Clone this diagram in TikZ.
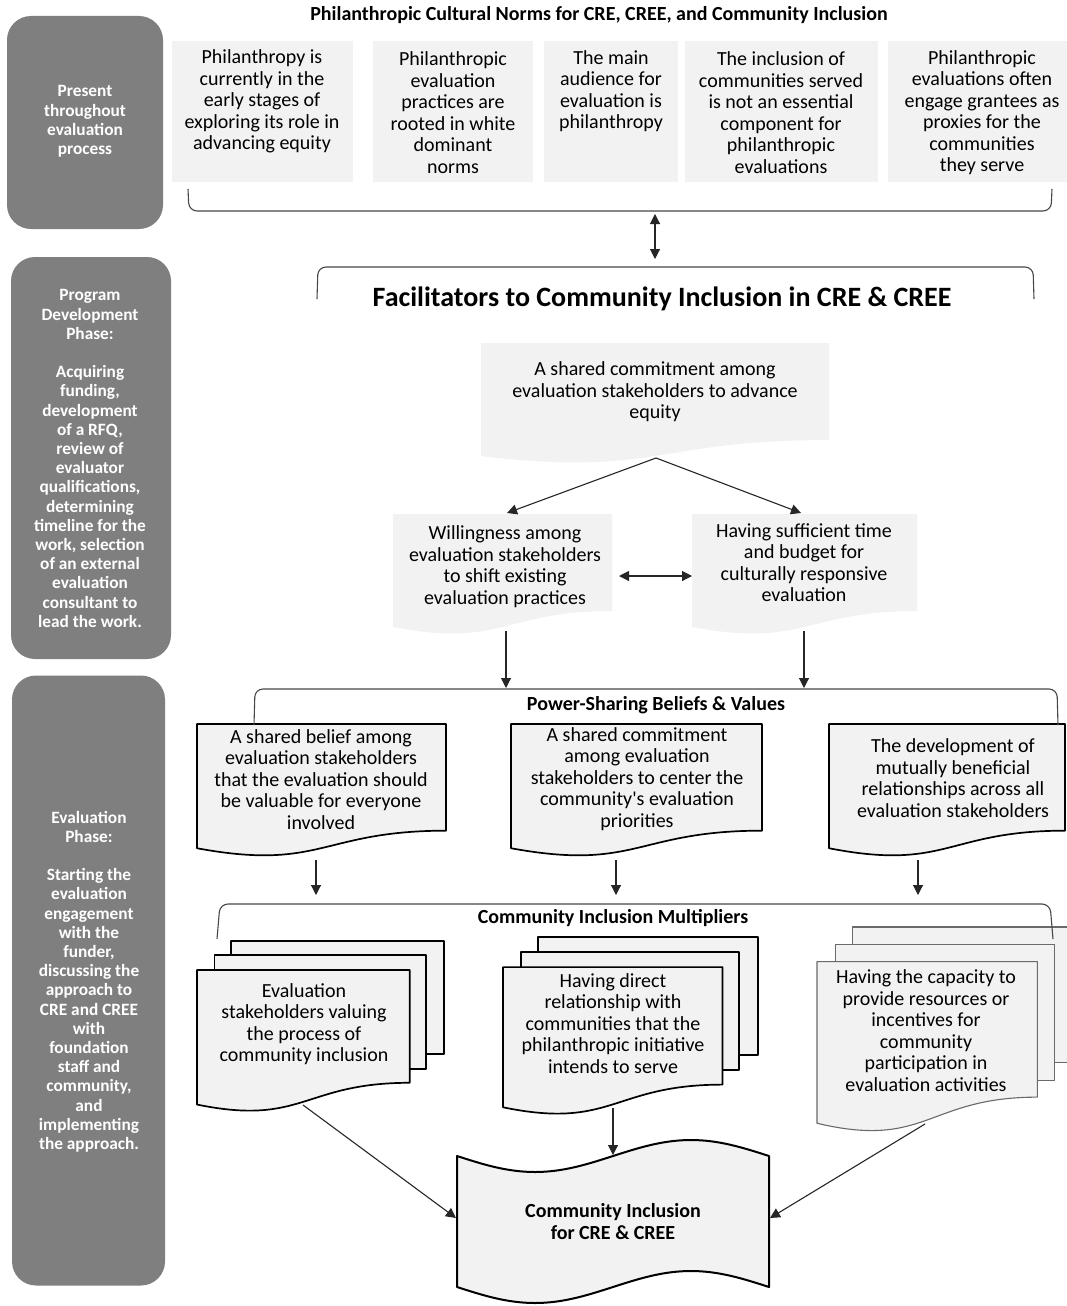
\documentclass[tikz,border=0pt]{standalone}
\usepackage{fontspec}
\setmainfont{Carlito}
\usetikzlibrary{arrows.meta}

\definecolor{phasegray}{HTML}{7F7F7F}
\definecolor{paper}{HTML}{F2F2F2}
\definecolor{softline}{HTML}{6A6A6A}

% flowchart "document": flat top, wavy bottom (low on the left)
\newcommand{\docshape}[5]{% x, y, width, height, style
  \pgfmathsetmacro{\dsR}{#1+#3}%
  \pgfmathsetmacro{\dsM}{#1+0.5*#3}%
  \pgfmathsetmacro{\dsA}{#2+0.802*#4}%
  \pgfmathsetmacro{\dsB}{#2+1.1075*#4}%
  \pgfmathsetmacro{\dsC}{#2+0.934*#4}%
  \path[#5] (#1,#2) -- (\dsR,#2) -- (\dsR,\dsA) .. controls (\dsM,\dsA) and (\dsM,\dsB) .. (#1,\dsC) -- cycle;}

% flowchart "multidocument": three stacked pages, the front one with a wavy bottom
\newcommand{\stackshape}[5]{% x, y, width, height, style
  \pgfmathsetmacro{\ssBx}{#1+0.1376*#3}%
  \pgfmathsetmacro{\ssR}{#1+#3}%
  \pgfmathsetmacro{\ssBb}{#2+0.666*#4}%
  \pgfmathsetmacro{\ssMx}{#1+0.0709*#3}%
  \pgfmathsetmacro{\ssMr}{#1+0.926*#3}%
  \pgfmathsetmacro{\ssMt}{#2+0.084*#4}%
  \pgfmathsetmacro{\ssMb}{#2+0.752*#4}%
  \pgfmathsetmacro{\ssFr}{#1+0.861*#3}%
  \pgfmathsetmacro{\ssFt}{#2+0.170*#4}%
  \pgfmathsetmacro{\ssFb}{#2+0.834*#4}%
  \pgfmathsetmacro{\ssFc}{#1+0.43*#3}%
  \pgfmathsetmacro{\ssFd}{#2+1.09*#4}%
  \pgfmathsetmacro{\ssFl}{#2+0.962*#4}%
  \path[#5] (\ssBx,#2) rectangle (\ssR,\ssBb);
  \path[#5] (\ssMx,\ssMt) rectangle (\ssMr,\ssMb);
  \path[#5] (#1,\ssFt) -- (\ssFr,\ssFt) -- (\ssFr,\ssFb) .. controls (\ssFc,\ssFb) and (\ssFc,\ssFd) .. (#1,\ssFl) -- cycle;}

\begin{document}
\begin{tikzpicture}[x=1pt, y=-1pt, line join=round,
  phase/.style={rectangle, fill=phasegray, rounded corners=24pt, inner sep=0pt},
  phasetext/.style={text=white, font=\fontsize{17.3}{19.2}\selectfont\bfseries, align=center, inner sep=0pt},
  normbox/.style={rectangle, fill=paper, inner sep=0pt},
  bodytext/.style={font=\fontsize{20}{21.5}\selectfont, align=center, inner sep=0pt},
  headtext/.style={font=\fontsize{20}{21.5}\selectfont\bfseries, align=center, inner sep=0pt},
  bigtitle/.style={font=\fontsize{28}{30}\selectfont\bfseries, align=center, inner sep=0pt},
  brk/.style={draw=black!72, line width=1.1pt, rounded corners=8pt},
  con/.style={draw=black!85, line width=1.1pt, -{Triangle[length=10pt,width=10pt]}},
  dcon/.style={draw=black!85, line width=1.1pt, {Triangle[length=10pt,width=10pt]}-{Triangle[length=10pt,width=10pt]}},
  docplain/.style={fill=paper},
  docbold/.style={fill=paper, draw=black, line width=1.7pt},
  docsoft/.style={fill=paper, draw=softline, line width=1.1pt},
  tapestyle/.style={fill=paper, draw=black, line width=2pt}]

\path[use as bounding box, fill=white] (0,0) rectangle (1066,1306);

% ---- phase column ----
\node[phase, minimum width=156pt, minimum height=213pt] (phaseA) at (85,122.5) {};
\node[phasetext] (phaseAtext) at (85,121.5) {Present\\throughout\\evaluation\\process};
\node[phase, minimum width=160pt, minimum height=402pt] (phaseB) at (91,458) {};
\node[phasetext] (phaseBtext) at (90,458.5) {Program\\Development\\Phase:\\[19.2pt]Acquiring\\funding,\\development\\of a RFQ,\\review of\\evaluator\\qualifications,\\determining\\timeline for the\\work, selection\\of an external\\evaluation\\consultant to\\lead the work.};
\node[phase, minimum width=153pt, minimum height=610pt] (phaseC) at (88.5,980.5) {};
\node[phasetext] (phaseCtext) at (89,981.5) {Evaluation\\Phase:\\[19.2pt]Starting the\\evaluation\\engagement\\with the\\funder,\\discussing the\\approach to\\CRE and CREE\\with\\foundation\\staff and\\community,\\and\\implementing\\the approach.};

% ---- cultural norms ----
\node[headtext] (normsTitle) at (599,15) {Philanthropic Cultural Norms for CRE, CREE, and Community Inclusion};
\node[normbox, minimum width=181pt, minimum height=141pt] (normA) at (262.5,111.5) {};
\node[normbox, minimum width=160pt, minimum height=141pt] (normB) at (453,111.5) {};
\node[normbox, minimum width=134pt, minimum height=141pt] (normC) at (611,111.5) {};
\node[normbox, minimum width=193pt, minimum height=141pt] (normD) at (781.5,111.5) {};
\node[normbox, minimum width=190pt, minimum height=141pt] (normE) at (983,111.5) {};
\node[bodytext] (normAtext) at (262,101.5) {Philanthropy is\\currently in the\\early stages of\\exploring its role in\\advancing equity};
\node[bodytext] (normBtext) at (453,112.5) {Philanthropic\\evaluation\\practices are\\rooted in white\\dominant\\norms};
\node[bodytext] (normCtext) at (611,91) {The main\\audience for\\evaluation is\\philanthropy};
\node[bodytext] (normDtext) at (781,112.5) {The inclusion of\\communities served\\is not an essential\\component for\\philanthropic\\evaluations};
\node[bodytext] (normEtext) at (982,112.5) {Philanthropic\\evaluations often\\engage grantees as\\proxies for the\\communities\\they serve};
\draw[brk] (188,189) -- (189,211) -- (1051,211) -- (1052,189);

% ---- facilitators ----
\draw[brk] (317,299) -- (318,267) -- (1033,267) -- (1034,299);
\node[bigtitle] (facTitle) at (662,299) {Facilitators to Community Inclusion in CRE \& CREE};

\docshape{481}{343}{348}{121}{docplain}
\node[bodytext] (commitText) at (655,392) {A shared commitment among\\evaluation stakeholders to advance\\equity};
\docshape{393}{514}{219}{121}{docplain}
\node[bodytext] (willText) at (505,566.5) {Willingness among\\evaluation stakeholders\\to shift existing\\evaluation practices};
\docshape{692}{514}{225}{121}{docplain}
\node[bodytext] (timeText) at (804,562.5) {Having sufficient time\\and budget for\\culturally responsive\\evaluation};

% ---- power-sharing beliefs & values ----
\docshape{197}{724}{249}{133}{docbold}
\node[bodytext] (beliefText) at (321,779.5) {A shared belief among\\evaluation stakeholders\\that the evaluation should\\be valuable for everyone\\involved};
\docshape{511}{724}{251}{133}{docbold}
\node[bodytext] (centerText) at (637,779) {A shared commitment\\among evaluation\\stakeholders to center the\\community\textquotesingle s evaluation\\priorities};
\docshape{829}{724}{236}{133}{docbold}
\node[bodytext] (relateText) at (953,778) {The development of\\mutually beneficial\\relationships across all\\evaluation stakeholders};
\draw[brk] (254,725) -- (255,689) -- (1057,689) -- (1058,725);
\node[headtext] (psTitle) at (656,705) {Power-Sharing Beliefs \& Values};

% ---- community inclusion multipliers ----
\stackshape{197}{941}{247}{170}{docbold}
\node[bodytext] (valueText) at (304,1024) {Evaluation\\stakeholders valuing\\the process of\\community inclusion};
\stackshape{503}{937}{255}{177}{docbold}
\node[bodytext] (directText) at (613,1023.5) {Having direct\\relationship with\\communities that the\\philanthropic initiative\\intends to serve};
\stackshape{817}{927}{256}{204}{docsoft}
\node[bodytext] (resourceText) at (926,1030.5) {Having the capacity to\\provide resources or\\incentives for\\community\\participation in\\evaluation activities};
\draw[brk] (217,939) -- (220,904) -- (1050,904) -- (1053,939);
\node[headtext] (cimTitle) at (613,918) {Community Inclusion Multipliers};

% ---- outcome ----
\path[tapestyle] (457,1156) sin (535,1172) cos (613,1156) sin (691,1140) cos (769,1156)
  -- (769,1287) sin (691,1271) cos (613,1287) sin (535,1303) cos (457,1287) -- cycle;
\node[headtext] (goalText) at (613,1221.5) {Community Inclusion\\for CRE \& CREE};

% ---- connector end points ----
\coordinate (normsFoot) at (655,214);
\coordinate (facHead) at (655,259);
\coordinate (commitFoot) at (656,458);
\coordinate (willHead) at (507,513);
\coordinate (timeHead) at (801,513);
\coordinate (willSide) at (619,576);
\coordinate (timeSide) at (692,576);
\coordinate (willFoot) at (506,631);
\coordinate (timeFoot) at (804,631);
\coordinate (psWill) at (506,688);
\coordinate (psTime) at (804,688);
\coordinate (beliefFoot) at (316,860);
\coordinate (centerFoot) at (616,860);
\coordinate (relateFoot) at (918,860);
\coordinate (cimA) at (316,895);
\coordinate (cimB) at (616,895);
\coordinate (cimC) at (918,895);
\coordinate (valueFoot) at (303,1105);
\coordinate (directFoot) at (613,1108);
\coordinate (resourceFoot) at (925,1124);
\coordinate (goalWest) at (456,1218);
\coordinate (goalNorth) at (613,1155);
\coordinate (goalEast) at (770,1218);

% ---- connectors ----
\draw[dcon] (normsFoot) -- (facHead);
\draw[con] (commitFoot) -- (willHead);
\draw[con] (commitFoot) -- (timeHead);
\draw[dcon] (willSide) -- (timeSide);
\draw[con] (willFoot) -- (psWill);
\draw[con] (timeFoot) -- (psTime);
\draw[con] (beliefFoot) -- (cimA);
\draw[con] (centerFoot) -- (cimB);
\draw[con] (relateFoot) -- (cimC);
\draw[con] (valueFoot) -- (goalWest);
\draw[con] (directFoot) -- (goalNorth);
\draw[con] (resourceFoot) -- (goalEast);
\end{tikzpicture}
\end{document}
